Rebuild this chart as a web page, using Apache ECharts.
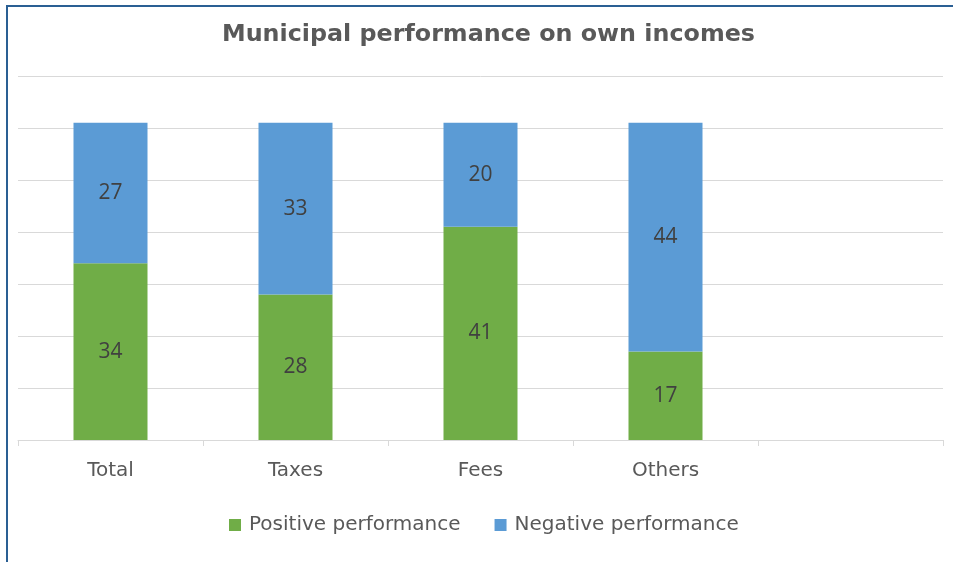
<!DOCTYPE html>
<html>
<head>
<meta charset="utf-8">
<script src="https://cdn.jsdelivr.net/npm/echarts@6/dist/echarts.min.js"></script>
<style>
  html, body { margin: 0; padding: 0; background: #fff; }
  #chart { width: 953px; height: 562px; }
</style>
</head>
<body>
<div id="chart"></div>
<script>
// Categories along the x axis (the last slot is intentionally blank)
const categories = ['Total', 'Taxes', 'Fees', 'Others', ''];
// Stacked series values
const positiveValues = [34, 28, 41, 17, null];
const negativeValues = [27, 33, 20, 44, null];
const seriesNames = ['Positive performance', 'Negative performance'];

const TITLE_FONT = '"DejaVu Sans", "Open Sans", sans-serif';
const TEXT_FONT = '"DejaVu Sans", "Noto Sans", sans-serif';
const LABEL_FONT = '"Open Sans", "Noto Sans", sans-serif';

const chart = echarts.init(document.getElementById('chart'), null, { renderer: 'canvas' });

const labelStyle = {
  show: true,
  position: 'inside',
  color: '#404040',
  fontSize: 21,
  fontFamily: LABEL_FONT
};

chart.setOption({
  animation: false,
  backgroundColor: '#ffffff',
  title: {
    text: 'Municipal performance on own incomes',
    left: 217,
    top: 18,
    textStyle: { color: '#595959', fontSize: 23.8, fontWeight: 'bold', fontFamily: TITLE_FONT }
  },
  legend: {
    bottom: 22,
    left: 224,
    itemWidth: 12,
    itemHeight: 12,
    itemGap: 34,
    icon: 'rect',
    textStyle: { color: '#595959', fontSize: 20, fontFamily: TEXT_FONT, padding: [0, 0, 0, 3] },
    data: seriesNames
  },
  grid: { left: 18, right: 10, top: 76, bottom: 122, containLabel: false },
  xAxis: {
    type: 'category',
    data: categories,
    axisLine: { lineStyle: { color: '#d9d9d9', width: 1 } },
    axisTick: { show: true, alignWithLabel: false, length: 6, lineStyle: { color: '#d9d9d9' } },
    axisLabel: { color: '#595959', fontSize: 20, fontFamily: TEXT_FONT, margin: 21 }
  },
  yAxis: {
    type: 'value',
    min: 0,
    max: 70,
    interval: 10,
    axisLabel: { show: false },
    axisLine: { show: false },
    axisTick: { show: false },
    splitLine: { lineStyle: { color: '#d9d9d9', width: 1 } }
  },
  series: [
    {
      name: seriesNames[0],
      type: 'bar',
      stack: 'perf',
      barWidth: '40%',
      data: positiveValues,
      itemStyle: { color: '#70ad47' },
      label: labelStyle
    },
    {
      name: seriesNames[1],
      type: 'bar',
      stack: 'perf',
      barWidth: '40%',
      data: negativeValues,
      itemStyle: { color: '#5b9bd5' },
      label: labelStyle
    }
  ],
  graphic: [
    // frame edges along the left and top of the chart area
    { type: 'rect', left: 6, top: 5, shape: { width: 2, height: 560 }, style: { fill: '#2a5f93' }, silent: true },
    { type: 'rect', left: 6, top: 5, shape: { width: 950, height: 2 }, style: { fill: '#2a5f93' }, silent: true }
  ]
});
</script>
</body>
</html>
